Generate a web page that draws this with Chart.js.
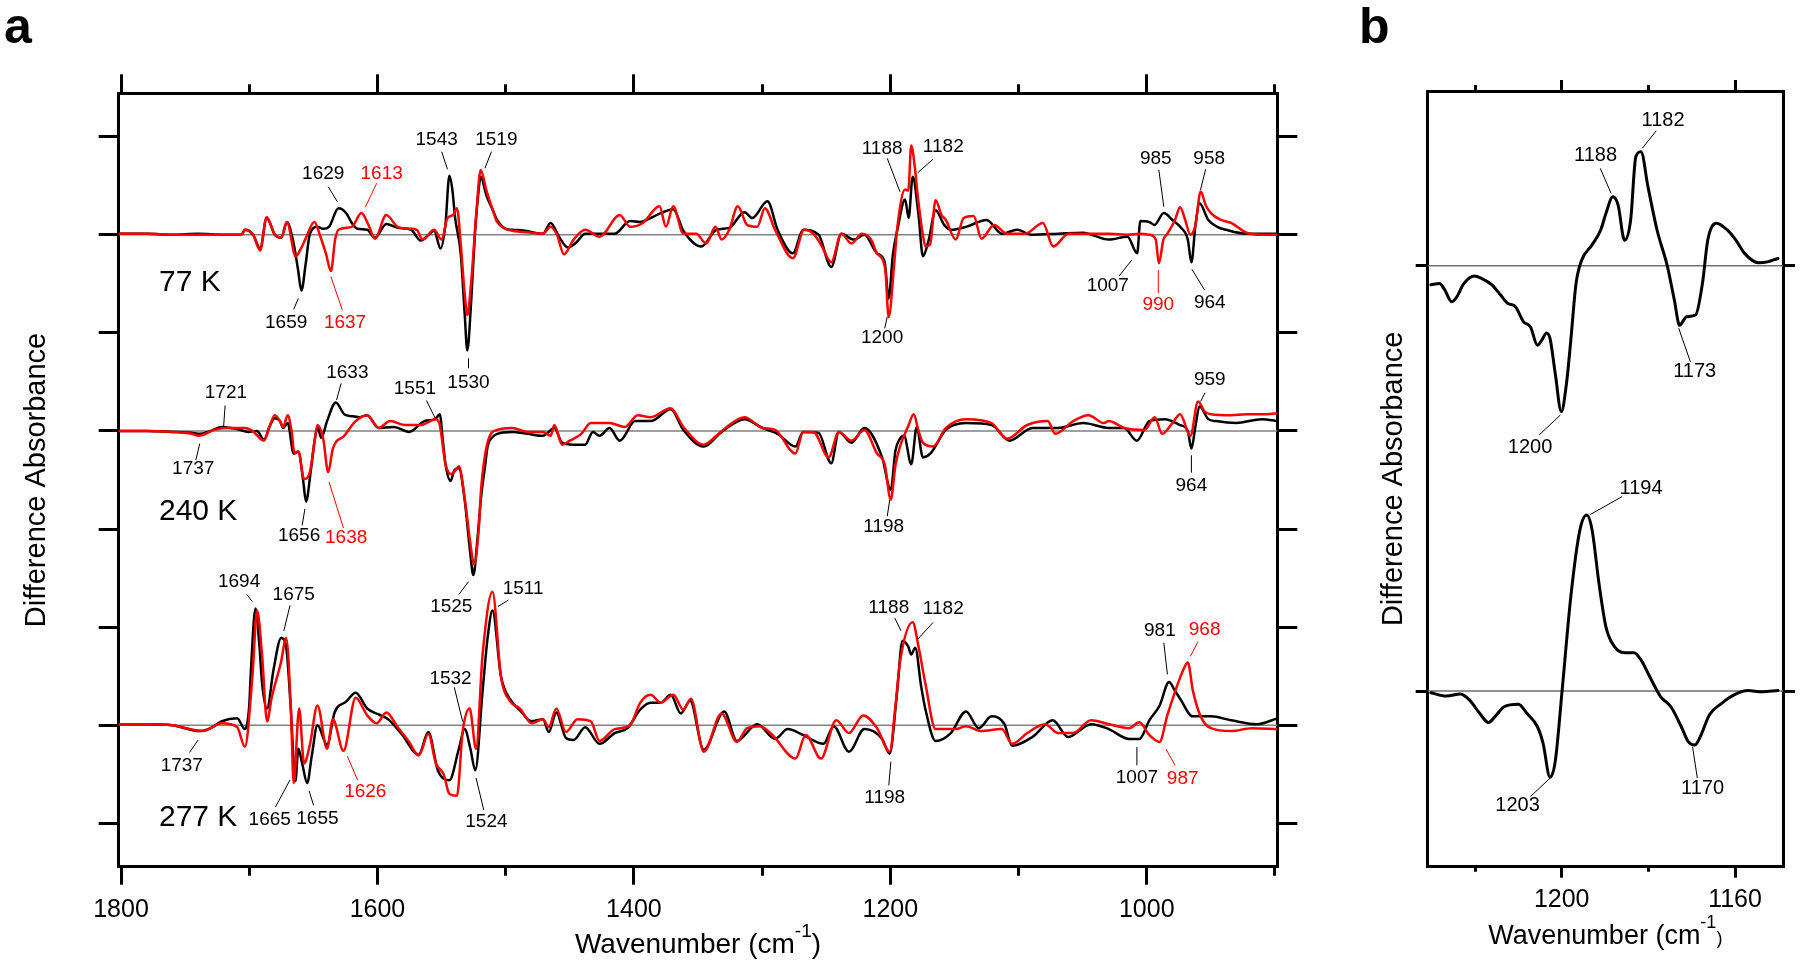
<!DOCTYPE html>
<html>
<head>
<meta charset="utf-8">
<script src="https://cdn.jsdelivr.net/npm/chart.js@4.4.1/dist/chart.umd.min.js"></script>
<style>
  html, body { margin: 0; padding: 0; background: #fff; }
  #wrapA { position: absolute; left: 0; top: 0; width: 1330px; height: 970px; }
  #wrapB { position: absolute; left: 1330px; top: 0; width: 470px; height: 970px; }
</style>
</head>
<body>
<div id="wrapA"><canvas id="chartA"></canvas></div>
<div id="wrapB"><canvas id="chartB"></canvas></div>
<script>
// ---- panel a : spectra as [wavenumber, difference absorbance] (tick units, relative to each baseline)
const black77 = [[1801.8,0.01],[1780,0.01],[1760,0],[1740,0.01],[1720,0],[1706,0],[1703.4,0.05],[1697,0],[1691.5,-0.14],[1686.4,0.17],[1680,0],[1675,-0.03],[1670.6,0.13],[1666,-0.05],[1662,-0.35],[1659.3,-0.57],[1656,-0.3],[1652.7,0.01],[1646.8,0.08],[1642.3,0.06],[1637.8,0.08],[1630.4,0.27],[1624.4,0.22],[1620,0.12],[1615.5,0.06],[1608,0.05],[1602,-0.03],[1593.1,0.11],[1584.2,0.07],[1573.7,0.05],[1566.3,-0.06],[1560,0],[1555.8,0.04],[1550.8,-0.14],[1547,0.1],[1543.9,0.6],[1541.5,0.45],[1539.5,0.18],[1535,-0.2],[1532,-0.8],[1529.9,-1.18],[1527,-0.7],[1524,0],[1521.5,0.4],[1519.5,0.59],[1515,0.4],[1510,0.25],[1506.7,0.15],[1500,0.06],[1494.8,0.05],[1485,0.04],[1470.9,0.01],[1465,0.12],[1458.4,-0.02],[1451.5,-0.13],[1445,-0.08],[1438,0.01],[1426.8,0.01],[1415,0.01],[1403,0.14],[1395,0.13],[1387,0.17],[1379,0.22],[1369.3,0.26],[1361.4,0.04],[1347.5,-0.12],[1335.6,0.05],[1325.6,0.07],[1313.7,0.23],[1307.7,0.17],[1295.8,0.34],[1287.9,0.05],[1276,-0.19],[1268,0.05],[1256,0],[1246.1,-0.33],[1238.2,0.01],[1228.3,-0.05],[1220.3,0],[1210.4,-0.19],[1204.4,-0.28],[1201.3,-0.65],[1198,-0.2],[1194.5,0.05],[1188.5,0.36],[1185.7,0.17],[1182.6,0.59],[1178,0.2],[1174.6,-0.22],[1170,-0.05],[1164.7,0.25],[1158,0.1],[1152.8,0.05],[1141,0.08],[1125,0.15],[1113,0.01],[1101,0.05],[1090,0],[1069,0.01],[1050,0.02],[1029.6,-0.05],[1015,-0.02],[1007.5,-0.19],[1005,0.14],[998,0.13],[994,0.1],[986.7,0.22],[980,0.15],[974,0.08],[968,-0.05],[965.2,-0.28],[962,0.1],[958.9,0.32],[952,0.15],[945,0.08],[938.2,0.05],[922.3,0.01],[900,0.01],[898.2,0.01]];
const red77 = [[1801.8,0.01],[1780,0.01],[1760,0],[1740,0],[1720,0],[1706,0],[1703.4,0.05],[1697,0],[1691.5,-0.16],[1686.4,0.18],[1680,0],[1675,-0.03],[1670.6,0.13],[1663.8,-0.22],[1660,-0.15],[1655.7,-0.03],[1649.2,0.13],[1645,0],[1640,-0.2],[1636.3,-0.37],[1633,-0.05],[1630.4,0.05],[1620,0.08],[1612.5,0.22],[1607,0.1],[1602,-0.04],[1593.1,0.2],[1584.2,0.08],[1575,0.06],[1569.3,0.05],[1564.8,-0.05],[1555.8,0.05],[1549.9,-0.05],[1545.4,0.17],[1541,0.2],[1538,0.27],[1535,-0.1],[1532,-0.6],[1529.9,-0.82],[1527,-0.5],[1523,0.2],[1519.5,0.66],[1515,0.45],[1510,0.25],[1506.7,0.13],[1500,0.06],[1494.8,0.04],[1480,0.02],[1470.9,0.01],[1465,0.08],[1460,0],[1454.5,-0.2],[1447,-0.05],[1438,0.05],[1426.8,-0.02],[1411,0.2],[1403,0.08],[1393,0.12],[1380,0.29],[1375,0.08],[1369.3,0.29],[1361.4,0.01],[1351.5,0.01],[1343.5,-0.09],[1336.4,0.08],[1331.6,-0.05],[1325.6,0.05],[1319,0.29],[1311.7,0.1],[1303.8,0.08],[1297.8,0.27],[1289.9,0.05],[1276,-0.24],[1267.2,0.05],[1260,0.01],[1254.1,-0.1],[1246.1,-0.28],[1238.2,0.01],[1230.3,-0.09],[1222.3,0.01],[1215,-0.05],[1210.4,-0.19],[1204,-0.35],[1201.3,-0.84],[1197,-0.3],[1194.5,0.08],[1188.5,0.46],[1186,0.45],[1183.7,0.91],[1181,0.7],[1178.6,0.39],[1174,-0.05],[1172.6,-0.12],[1169,-0.1],[1164.7,0.35],[1160,0.2],[1156.7,0.15],[1149,-0.05],[1142.8,0.17],[1135,0.19],[1129,-0.04],[1119,0.1],[1109,0.01],[1095,0.01],[1081,0.12],[1073,-0.12],[1061,0.01],[1045,0.01],[1029.6,0.01],[1015,0],[1005.8,0.01],[998,0],[993,-0.05],[990.6,-0.29],[987,-0.05],[983.9,0.01],[978,0.15],[974,0.28],[970,0.15],[966,0],[962,0.1],[958,0.44],[954,0.3],[950,0.22],[942,0.15],[934.2,0.12],[922.3,0.02],[910,0],[898.2,0]];
const black240 = [[1801.8,0],[1780,0],[1760,-0.01],[1745,-0.02],[1739,-0.03],[1730,0],[1721.3,0.04],[1710,0.02],[1700.4,-0.01],[1694,0],[1688.5,-0.09],[1684,0.05],[1680.2,0.13],[1676,0.1],[1673.6,0.03],[1670,0.08],[1665.3,-0.23],[1661.7,-0.21],[1658,-0.5],[1655.7,-0.72],[1652.1,-0.42],[1649,-0.1],[1646.8,0.04],[1643.8,-0.07],[1639.3,0.1],[1632.5,0.29],[1625.9,0.17],[1620,0.15],[1614,0.14],[1608,0.16],[1599.1,0.03],[1587.2,0.04],[1575.3,-0.01],[1563.3,0.1],[1555,0.12],[1551.4,0.17],[1549,-0.1],[1546.9,-0.34],[1543,-0.51],[1540,-0.4],[1536.5,-0.38],[1532,-0.7],[1528,-1.2],[1525.2,-1.47],[1522,-1.1],[1519.2,-0.68],[1516,-0.35],[1514.1,-0.16],[1510,-0.06],[1506.7,-0.03],[1494.8,-0.01],[1482.8,-0.03],[1470.9,-0.05],[1462,0.03],[1456,-0.12],[1447,-0.14],[1438,-0.14],[1432,-0.01],[1426.8,-0.05],[1419,0.03],[1411,-0.1],[1399,0.1],[1387,0.1],[1371.3,0.22],[1361.4,0.01],[1345.5,-0.16],[1331.6,-0.01],[1313.7,0.12],[1299.8,0.03],[1287.9,-0.03],[1274,-0.16],[1268,-0.01],[1256,-0.02],[1246.1,-0.33],[1240.2,-0.01],[1230.3,-0.12],[1220.3,0.03],[1206.4,-0.27],[1199.7,-0.6],[1196,-0.2],[1192.5,-0.08],[1189.3,-0.05],[1183.7,-0.34],[1179.4,0.04],[1174.6,-0.27],[1168.7,-0.23],[1156.7,0.01],[1141,0.08],[1121,0.06],[1107.1,-0.1],[1089.2,0.03],[1069.3,0.03],[1049.5,0.08],[1029.6,0.03],[1017.7,0.03],[1007.7,-0.1],[998,0.1],[986,0.12],[974,0.06],[968,0],[965.2,-0.18],[962,0.05],[958.9,0.25],[952,0.12],[946.1,0.1],[930.3,0.08],[910,0.12],[898.2,0.1]];
const red240 = [[1801.8,0],[1780,0],[1760,-0.01],[1745,-0.03],[1739.2,-0.05],[1727.3,0.01],[1718.3,0.03],[1703.4,0.03],[1697.5,0],[1688.5,-0.1],[1684,0.05],[1680.2,0.16],[1676,0.1],[1673.6,0.04],[1670,0.16],[1667,0],[1664.7,-0.23],[1661.7,-0.21],[1657.2,-0.49],[1652.7,-0.42],[1649,-0.1],[1646.8,0.06],[1642.3,-0.08],[1638.4,-0.42],[1634.8,-0.18],[1625.9,-0.05],[1617,0.1],[1608,0.16],[1599.1,0.03],[1590.1,0.1],[1578.2,0.06],[1566.3,0.06],[1554.4,0.12],[1551.4,0.06],[1546.9,-0.34],[1542.5,-0.44],[1539,-0.4],[1536.5,-0.36],[1532,-0.68],[1528,-1.1],[1524.6,-1.36],[1521,-1],[1519.2,-0.6],[1514.1,-0.12],[1506.7,0.01],[1494.8,0.03],[1482.8,-0.01],[1470.9,-0.01],[1465,-0.05],[1462,0.06],[1456,-0.14],[1450,-0.1],[1441,-0.03],[1433.6,0.08],[1426.8,0.08],[1419,0.08],[1407,0.04],[1397,0.16],[1387,0.14],[1371.3,0.23],[1361.4,0.04],[1345.5,-0.14],[1335.6,-0.05],[1327.6,0.04],[1313.7,0.14],[1299.8,0.03],[1289.9,0.01],[1274,-0.23],[1268,-0.01],[1260,-0.01],[1248.1,-0.27],[1240.2,-0.01],[1230.3,-0.1],[1220.3,0.01],[1210.4,-0.23],[1204.4,-0.34],[1199.7,-0.7],[1196,-0.35],[1192.5,-0.16],[1186,0.05],[1181.8,0.17],[1178,0],[1174.6,-0.12],[1166.7,-0.16],[1156.7,0.03],[1141,0.12],[1121,0.08],[1109,-0.08],[1093.2,0.06],[1077.3,0.1],[1071.3,-0.03],[1057.4,0.1],[1045.5,0.16],[1033.6,0.08],[1029.6,0.1],[1017.7,0.03],[1001.8,0.01],[993.8,0.14],[988,-0.03],[980,0.08],[974,0.17],[966,-0.05],[960,0.3],[955,0.2],[950,0.17],[934.2,0.16],[922.3,0.17],[910,0.17],[898.2,0.18]];
const black277 = [[1801.8,0.01],[1780,0.01],[1760,0],[1739.2,-0.06],[1730,-0.03],[1721.3,0.04],[1709.4,0.07],[1703.4,-0.04],[1700,0.2],[1698.9,0.5],[1695.1,1.19],[1692,0.8],[1690,0.43],[1686.1,0.17],[1681,0.57],[1675.1,0.89],[1671.2,0.8],[1667.6,0.17],[1664,-0.57],[1661.7,-0.24],[1658.7,-0.39],[1654.8,-0.59],[1651.2,-0.31],[1646.8,0],[1639.3,-0.2],[1633.4,0.13],[1624.4,0.24],[1617,0.33],[1608,0.17],[1599.1,0.11],[1591.6,0.06],[1581.2,-0.09],[1567.8,-0.3],[1560.3,-0.07],[1552.9,-0.46],[1543.9,-0.56],[1536.5,-0.24],[1532,-0.04],[1527.5,-0.24],[1523.7,-0.46],[1518,0.35],[1514,0.9],[1510.3,1.17],[1503.7,0.5],[1496.3,0.26],[1488.8,0.15],[1479.9,0.04],[1470.9,0.06],[1466.4,-0.07],[1460.5,0.13],[1453,-0.13],[1447,-0.15],[1438,-0.02],[1426.8,-0.19],[1415,-0.08],[1405,-0.03],[1395,0.16],[1387,0.23],[1379,0.23],[1371.3,0.31],[1363.4,0.12],[1356.2,0.25],[1345.5,-0.25],[1329.6,0.14],[1319.7,-0.16],[1303.8,0.01],[1289.9,-0.14],[1280,-0.04],[1268,-0.1],[1252.1,-0.19],[1244.2,-0.01],[1232.3,-0.27],[1220.3,-0.04],[1206.4,-0.14],[1200.5,-0.29],[1195,0.3],[1190.5,0.86],[1186,0.8],[1183.7,0.72],[1180.6,0.79],[1176,0.4],[1172.6,0.16],[1164.7,-0.16],[1152.8,-0.08],[1141,0.14],[1131,-0.03],[1121,0.09],[1111,0.01],[1105,-0.21],[1089.2,-0.12],[1073.3,0.05],[1061.4,-0.12],[1043.5,0.01],[1029.6,-0.04],[1013.7,-0.14],[1005.8,-0.14],[998,0.05],[990,0.2],[982.6,0.44],[978,0.35],[974,0.27],[964.2,0.09],[950,0.09],[934.2,0.05],[914,0.01],[898.2,0.07]];
const red277 = [[1801.8,0.01],[1780,0.01],[1760,0],[1736.2,-0.06],[1721.3,0.02],[1709.4,-0.02],[1703.4,-0.22],[1697.5,0.5],[1693.9,1.17],[1690,0.72],[1686.1,0.04],[1682.5,0.28],[1675.1,0.65],[1671.2,0.89],[1667.6,0.2],[1665.3,-0.59],[1661.1,0.17],[1657.2,-0.39],[1652.7,-0.2],[1646.8,0.2],[1639.3,-0.24],[1634.8,0.06],[1626.5,-0.26],[1617,0.28],[1608,0.1],[1600.6,0.02],[1593.1,0.13],[1584.2,-0.02],[1575.3,-0.17],[1567.8,-0.31],[1560.3,-0.09],[1554.4,-0.39],[1548.4,-0.5],[1543.9,-0.7],[1538,-0.72],[1533.5,-0.06],[1528.1,0.17],[1523.1,-0.24],[1518,0.72],[1510.3,1.36],[1503.7,0.5],[1496.3,0.24],[1488.8,0.17],[1479.9,0.02],[1470.9,0.06],[1466.4,-0.02],[1460.5,0.17],[1453,-0.07],[1444,0.06],[1433.6,0.04],[1426.8,-0.16],[1415,-0.04],[1403,0],[1395,0.23],[1387,0.31],[1379,0.23],[1369.3,0.31],[1361.4,0.16],[1355.5,0.27],[1345.5,-0.27],[1331.6,0.12],[1319.7,-0.17],[1311.7,-0.03],[1301.8,-0.01],[1292,-0.1],[1274,-0.34],[1266,-0.1],[1254.1,-0.34],[1242.2,0.05],[1232.3,-0.08],[1221.1,0.1],[1210.4,-0.03],[1200.5,-0.27],[1196,0.2],[1192.5,0.64],[1182.6,1.05],[1178,0.8],[1172.6,0.42],[1164.7,-0.04],[1149,-0.04],[1141,-0.01],[1129,-0.06],[1113,-0.04],[1105,-0.19],[1093.2,-0.08],[1079.3,0.01],[1069.3,-0.08],[1057.4,-0.08],[1043.5,0.05],[1029.6,0.01],[1013.7,-0.03],[1005.8,0.03],[998,-0.1],[990,-0.17],[984,0.1],[978,0.34],[972,0.55],[968,0.64],[964,0.35],[958,0.09],[950,-0.03],[934.2,-0.06],[918,-0.03],[898.2,-0.04]];

// vertical offsets of the three temperature traces (tick units)
const tempNames = ['77 K', '240 K', '277 K'];
const tempOffsets = [6, 4, 1];

// ---- panel b : single spectra, top trace offset 1, bottom trace offset 0
const specB1 = [[1230.2,-0.045],[1228.2,-0.042],[1227,-0.057],[1225.4,-0.085],[1224.2,-0.073],[1222.6,-0.042],[1220.1,-0.024],[1218.5,-0.03],[1216.1,-0.045],[1214.1,-0.069],[1212.4,-0.089],[1210.8,-0.095],[1208.8,-0.132],[1207.2,-0.144],[1205.6,-0.187],[1204.6,-0.175],[1203.5,-0.158],[1202.7,-0.171],[1201.5,-0.253],[1200.1,-0.343],[1198.9,-0.277],[1197.9,-0.175],[1196.7,-0.042],[1195.4,0.013],[1193,0.049],[1191,0.084],[1189.8,0.123],[1188.2,0.162],[1187,0.143],[1185.5,0.06],[1184.1,0.107],[1182.9,0.256],[1181.7,0.268],[1180.1,0.186],[1178,0.084],[1175.6,-0.002],[1174,-0.081],[1172.8,-0.14],[1171.2,-0.12],[1169.1,-0.116],[1167.5,-0.04],[1166.3,0.06],[1164.3,0.1],[1161.8,0.084],[1159.8,0.06],[1157.8,0.029],[1154.6,0.007],[1152.5,0.009],[1150.1,0.017]];
const specB2 = [[1230.2,-0.004],[1226.6,-0.012],[1223.4,-0.007],[1221.3,-0.021],[1218.9,-0.053],[1216.9,-0.074],[1215.3,-0.059],[1213.3,-0.037],[1210,-0.031],[1208,-0.053],[1205.6,-0.084],[1204.3,-0.123],[1202.7,-0.203],[1201.5,-0.166],[1199.9,0.002],[1197.9,0.222],[1195.8,0.379],[1194.2,0.414],[1193,0.379],[1191.4,0.253],[1189.8,0.151],[1187.8,0.104],[1185.3,0.09],[1183.3,0.09],[1181.7,0.073],[1179.7,0.034],[1177.2,-0.013],[1174.8,-0.037],[1172.4,-0.084],[1170.8,-0.119],[1169.3,-0.127],[1168,-0.107],[1165.9,-0.056],[1163.1,-0.029],[1160.2,-0.009],[1157,0.001],[1153.8,-0.002],[1150.1,0.001]];
const offsetsB = [1, 0];

// ---- axis ranges and tick values
const rangeA = [898.2, 1801.8];
const yRangeA = [-0.4424, 7.4414];
const majorA = [1800, 1600, 1400, 1200, 1000];
const minorA = [1700, 1500, 1300, 1100, 900];
const yTicksA = [0, 1, 2, 3, 4, 5, 6, 7];
const rangeB = [1148.93, 1230.93];
const yRangeB = [-0.4131, 1.4108];
const majorB = [1200, 1160];
const minorB = [1220, 1180];
const yTicksB = [0, 1];

// ---- peak labels: text, colour, label pos (x,y), leader line (x1,y1)-(x2,y2)
const peaksA = [
  ['1629','k',1642.3,6.626,1638.4,6.49,1631.3,6.337],
  ['1613','r',1596.7,6.626,1600.6,6.524,1609.5,6.279],
  ['1543','k',1553.8,6.965,1549.9,6.846,1545.4,6.667],
  ['1519','k',1507.3,6.965,1511.1,6.846,1516.2,6.677],
  ['1659','k',1671.2,5.103,1665.3,5.239,1661.7,5.352],
  ['1637','r',1625.3,5.103,1627.4,5.232,1636.3,5.572],
  ['1530','k',1529.0,4.491,1529.0,4.638,1529.0,4.74],
  ['1188','k',1206.4,6.881,1202.4,6.779,1192.5,6.438],
  ['1182','k',1158.7,6.897,1166.7,6.769,1178.6,6.632],
  ['1200','k',1206.4,4.954,1204.4,5.046,1202.4,5.164],
  ['985','k',993.0,6.769,990.6,6.66,986.7,6.286],
  ['958','k',951.3,6.769,954.1,6.667,958.1,6.456],
  ['1007','k',1030.4,5.477,1021.6,5.579,1011.7,5.742],
  ['990','r',991.0,5.283,991.0,5.403,991.0,5.64],
  ['964','k',950.9,5.307,954.9,5.436,964.8,5.647],
  ['1721','k',1718.2,4.39,1718.8,4.26,1720,4.04],
  ['1633','k',1623.5,4.593,1628.3,4.485,1631.9,4.315],
  ['1551','k',1570.8,4.434,1561.8,4.31,1555,4.13],
  ['1737','k',1743.7,3.612,1741.6,3.703,1738.6,3.871],
  ['1656','k',1661.1,2.926,1658.7,3.037,1656.6,3.204],
  ['1638','r',1624.4,2.907,1626.5,3.01,1637.8,3.481],
  ['1525','k',1542.4,2.21,1536.5,2.332,1529.0,2.463],
  ['1198','k',1205.2,3.018,1202.4,3.13,1200.5,3.296],
  ['964','k',965.2,3.444,965.2,3.574,965.2,3.751],
  ['959','k',950.9,4.519,954.5,4.39,958,4.30],
  ['1694','k',1707.9,2.462,1701.9,2.332,1697.5,2.259],
  ['1675','k',1665.3,2.332,1668.2,2.221,1673,1.962],
  ['1737','k',1752.6,0.591,1746.6,0.721,1739.8,0.85],
  ['1665','k',1684.0,0.035,1679.6,0.165,1668.2,0.442],
  ['1655','k',1646.8,0.046,1649.8,0.183,1653.3,0.331],
  ['1626','r',1609.5,0.32,1615.5,0.442,1623.5,0.684],
  ['1532','k',1543.0,1.469,1540.1,1.387,1533.5,1.036],
  ['1511','k',1486.4,2.395,1497.7,2.276,1506.1,2.21],
  ['1524','k',1515.0,0.016,1517.1,0.136,1523.1,0.462],
  ['1188','k',1201.2,2.196,1196.5,2.092,1191.7,1.962],
  ['1182','k',1158.7,2.184,1166.7,2.047,1178.6,1.877],
  ['1198','k',1204.4,0.258,1201.2,0.387,1199.6,0.628],
  ['981','k',989.8,1.962,986.7,1.84,983.9,1.518],
  ['968','r',954.9,1.974,960.0,1.851,966,1.702],
  ['1007','k',1007.7,0.462,1007.7,0.591,1007.7,0.777],
  ['987','r',972.0,0.451,977.9,0.591,985.1,0.757]
];
const peaksB = [
  ['1182','k',1176.6,1.341,1178.2,1.317,1181.4,1.276],
  ['1188','k',1192.2,1.26,1191.1,1.229,1188.6,1.17],
  ['1200','k',1207.3,0.573,1205.2,0.602,1200.3,0.649],
  ['1173','k',1169.3,0.751,1170.3,0.774,1173,0.853],
  ['1194','k',1181.7,0.477,1186.1,0.457,1193.4,0.415],
  ['1203','k',1210.2,-0.27,1207.2,-0.248,1202.7,-0.205],
  ['1170','k',1167.5,-0.229,1168.7,-0.205,1169.8,-0.131]
];

const RED = '#ff0000';
const fontFam = "'Liberation Sans', Arial, sans-serif";
Chart.defaults.font.family = fontFam;
Chart.defaults.color = '#000';

function shifted(pairs, off) {
  return pairs.map(p => ({x: p[0], y: p[1] + off}));
}

function lineSet(pairs, off, color, width, order) {
  return {
    data: shifted(pairs, off), borderColor: color, borderWidth: width,
    pointRadius: 0, cubicInterpolationMode: 'monotone', fill: false, order: order
  };
}

function baseSet(range, off, color) {
  return lineSet([[range[0], 0], [range[1], 0]], off, color, 1.5, 5);
}

function fixedTicks(values) {
  return scale => { scale.ticks = values.map(v => ({value: v})); };
}

function hAxis(pos, vals, len, size, weight, range, labels, pad) {
  return {
    type: 'linear', position: pos, reverse: true, min: range[0], max: range[1], weight: weight,
    afterBuildTicks: fixedTicks(vals),
    afterFit: s => { s.height = size; },
    grid: {drawOnChartArea: false, drawTicks: true, tickLength: len, color: '#000', lineWidth: 3},
    border: {display: true, color: '#000', width: 3},
    ticks: {display: labels, padding: pad, maxRotation: 0, autoSkip: false,
            font: {size: 25}, color: '#000', callback: v => String(v)}
  };
}

function vAxis(pos, vals, len, size, range, title, titlePad) {
  return {
    type: 'linear', position: pos, min: range[0], max: range[1],
    afterBuildTicks: fixedTicks(vals),
    afterFit: s => { s.width = size; },
    grid: {drawOnChartArea: false, drawTicks: true, tickLength: len, color: '#000', lineWidth: 3},
    border: {display: true, color: '#000', width: 3},
    ticks: {display: false},
    title: title ? {display: true, text: title, color: '#000', font: {size: 29},
                    padding: {top: titlePad, bottom: 0}} : {display: false}
  };
}

// peak labels with leader lines
function peakPlugin(items, size) {
  return {
    id: 'peaks',
    afterDatasetsDraw(chart) {
      const {ctx, scales: {x, y}} = chart;
      ctx.save();
      ctx.font = size + 'px ' + fontFam;
      ctx.textAlign = 'center';
      ctx.textBaseline = 'middle';
      ctx.lineWidth = 1;
      items.forEach(([t, c, tx, ty, x1, y1, x2, y2]) => {
        const col = c === 'r' ? RED : '#000';
        ctx.fillStyle = col;
        ctx.strokeStyle = col;
        ctx.fillText(t, x.getPixelForValue(tx), y.getPixelForValue(ty));
        ctx.beginPath();
        ctx.moveTo(x.getPixelForValue(x1), y.getPixelForValue(y1));
        ctx.lineTo(x.getPixelForValue(x2), y.getPixelForValue(y2));
        ctx.stroke();
      });
      ctx.restore();
    }
  };
}

// panel letter, x title with superscript, temperature labels
function decorPlugin(o) {
  return {
    id: 'decor',
    afterDraw(chart) {
      const {ctx, chartArea, scales: {x, y}} = chart;
      ctx.save();
      ctx.fillStyle = '#000';
      ctx.textBaseline = 'alphabetic';
      ctx.textAlign = 'left';
      ctx.font = 'bold 50px ' + fontFam;
      ctx.fillText(o.letter, o.letterX, 43);

      const mainFont = o.titleSize + 'px ' + fontFam;
      const supFont = o.supSize + 'px ' + fontFam;
      const closeFont = o.smallClose ? supFont : mainFont;
      ctx.font = mainFont;
      const w1 = ctx.measureText('Wavenumber (cm').width;
      ctx.font = supFont;
      const w2 = ctx.measureText('-1').width;
      ctx.font = closeFont;
      const w3 = ctx.measureText(')').width;
      let sx = (chartArea.left + chartArea.right) / 2 - (w1 + w2 + w3) / 2;
      ctx.font = mainFont;
      ctx.fillText('Wavenumber (cm', sx, o.titleBase);
      sx += w1;
      ctx.font = supFont;
      ctx.fillText('-1', sx, o.titleBase - o.supRaise);
      sx += w2;
      ctx.font = closeFont;
      ctx.fillText(')', sx, o.titleBase);

      if (o.temps) {
        ctx.font = '30px ' + fontFam;
        ctx.textBaseline = 'middle';
        o.temps.forEach(tp => ctx.fillText(tp[0], x.getPixelForValue(tp[1]), y.getPixelForValue(tp[2])));
      }
      ctx.restore();
    }
  };
}

const tempLabelPos = [[tempNames[0], 1770.4, 5.513], [tempNames[1], 1770.4, 3.173], [tempNames[2], 1770.4, 0.054]];

const commonOpts = {
  responsive: true, maintainAspectRatio: false, animation: false, devicePixelRatio: 1,
  layout: {padding: 0},
  plugins: {legend: {display: false}, tooltip: {enabled: false}},
  elements: {line: {borderJoinStyle: 'round', borderCapStyle: 'round'}}
};

// ---------- panel a
const pairsA = [[black77, red77], [black240, red240], [black277, red277]];
const setsA = [];
pairsA.forEach((pr, i) => {
  setsA.push(lineSet(pr[1], tempOffsets[i], RED, 2.5, 0));
  setsA.push(lineSet(pr[0], tempOffsets[i], '#000', 2.5, 1));
  setsA.push(baseSet(rangeA, tempOffsets[i], '#808080'));
});

new Chart(document.getElementById('chartA'), {
  type: 'line',
  data: {datasets: setsA},
  options: Object.assign({}, commonOpts, {
    scales: {
      x: hAxis('bottom', majorA, 18, 103.3, 1, rangeA, true, 10),
      xMinor: hAxis('bottom', minorA, 9, 0, 0, rangeA, false, 0),
      xTop: hAxis('top', majorA, 19, 93.3, 1, rangeA, false, 0),
      xTopMinor: hAxis('top', minorA, 9, 0, 0, rangeA, false, 0),
      y: vAxis('left', yTicksA, 20, 118.7, yRangeA, 'Difference Absorbance', 19.3),
      yRight: vAxis('right', yTicksA, 20, 52.7, yRangeA, null, 0)
    }
  }),
  plugins: [peakPlugin(peaksA, 19), decorPlugin({
    letter: 'a', letterX: 4, titleSize: 28, supSize: 19, supRaise: 16,
    smallClose: false, titleBase: 953, temps: tempLabelPos
  })]
});

// ---------- panel b
const setsB = [
  lineSet(specB1, offsetsB[0], '#000', 3, 0),
  lineSet(specB2, offsetsB[1], '#000', 3, 0),
  baseSet(rangeB, offsetsB[0], '#707070'),
  baseSet(rangeB, offsetsB[1], '#707070')
];

new Chart(document.getElementById('chartB'), {
  type: 'line',
  data: {datasets: setsB},
  options: Object.assign({}, commonOpts, {
    scales: {
      x: hAxis('bottom', majorB, 11, 103.3, 1, rangeB, true, 7),
      xMinor: hAxis('bottom', minorB, 5, 0, 0, rangeB, false, 0),
      xTop: hAxis('top', majorB, 11, 91, 1, rangeB, false, 0),
      xTopMinor: hAxis('top', minorB, 6, 0, 0, rangeB, false, 0),
      y: vAxis('left', yTicksB, 12, 97.7, yRangeB, 'Difference Absorbance', 46.6),
      yRight: vAxis('right', yTicksB, 12, 17, yRangeB, null, 0)
    }
  }),
  plugins: [peakPlugin(peaksB, 20), decorPlugin({
    letter: 'b', letterX: 29, titleSize: 27, supSize: 18, supRaise: 16,
    smallClose: true, titleBase: 944, temps: null
  })]
});
</script>
</body>
</html>
